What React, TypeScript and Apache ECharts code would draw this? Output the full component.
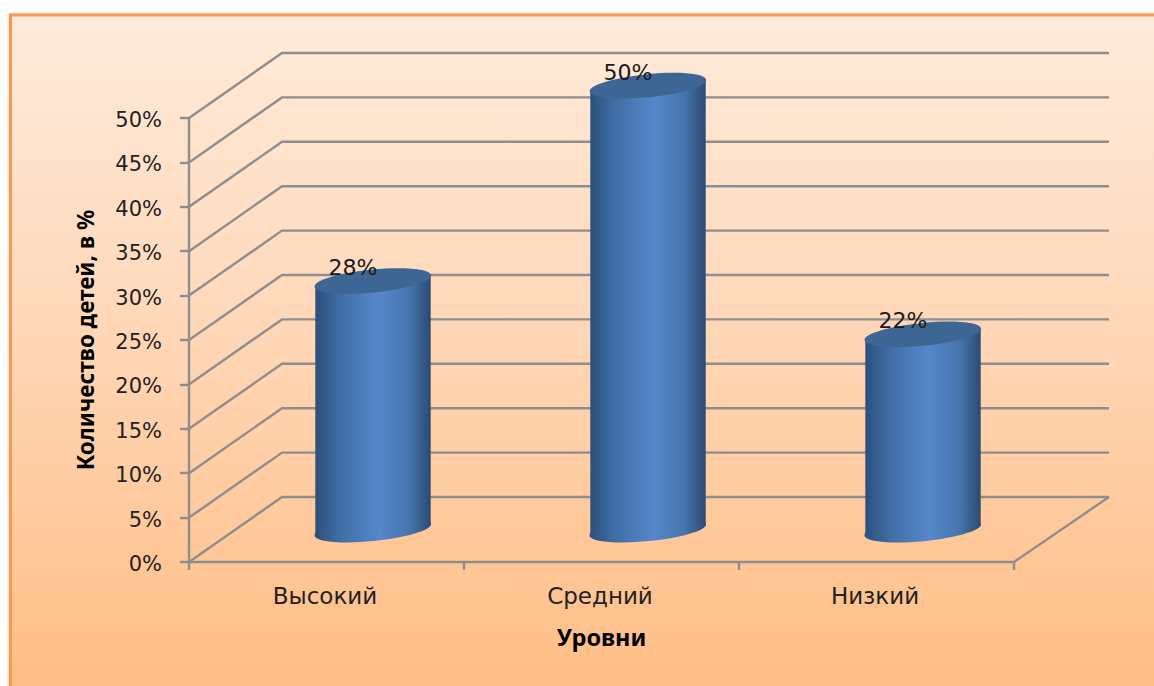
import React, { useEffect, useRef } from "react";
import * as echarts from "echarts";

const categories = ["Высокий", "Средний", "Низкий"];
const values = [28, 50, 22];
const wallLevels = [0, 5, 10, 15, 20, 25, 30, 35, 40, 45, 50];

const DEPTH_X = 93;
const DEPTH_Y = -65;
const WALL_EXTRA = 2;
const GRID_COLOR = "#8E8E8E";
const FONT = "'DejaVu Sans', sans-serif";
const TITLE_FONT = "'Noto Sans', sans-serif";

function wallItem(params: any, api: any) {
  const sys = params.coordSys;
  const level = api.value(1);
  const y = api.coord([0, level])[1];
  const x0 = sys.x;
  const x1 = sys.x + sys.width;
  const style = { stroke: GRID_COLOR, lineWidth: 2.4, fill: "none" };
  const children: any[] = [
    {
      type: "polyline",
      shape: {
        points: [
          [x0, y],
          [x0 + DEPTH_X, y + DEPTH_Y],
          [x1 + DEPTH_X + WALL_EXTRA, y + DEPTH_Y],
        ],
      },
      style,
    },
  ];
  if (level === 0) {
    children.push({
      type: "line",
      shape: { x1, y1: y, x2: x1 + DEPTH_X + WALL_EXTRA, y2: y + DEPTH_Y },
      style,
    });
  }
  return { type: "group", children };
}

const sideGradient = () =>
  new echarts.graphic.LinearGradient(0, 0, 1, 0, [
    { offset: 0, color: "#2C4F7B" },
    { offset: 0.2, color: "#3F6CA2" },
    { offset: 0.55, color: "#5588CB" },
    { offset: 0.82, color: "#4674AC" },
    { offset: 1, color: "#2B4A72" },
  ]);

function cylinderItem(params: any, api: any) {
  const index = api.value(0);
  const value = api.value(1);
  const top = api.coord([index, value]);
  const base = api.coord([index, 0]);
  const band = api.size([1, 0])[0];
  const cx = top[0] + DEPTH_X / 2;
  const cyTop = top[1] + DEPTH_Y / 2;
  const cyBase = base[1] + DEPTH_Y / 2;
  const rx = band * 0.213;
  const ry = 11.5;
  const tilt = (5.7 * Math.PI) / 180;
  const halfW = rx * 0.985;
  const tangent = 5.7;
  const ellipse = (cy: number, fill: any) => ({
    type: "ellipse",
    shape: { cx, cy, rx, ry },
    rotation: tilt,
    originX: cx,
    originY: cy,
    style: { fill },
  });
  return {
    type: "group",
    children: [
      ellipse(cyBase, sideGradient()),
      {
        type: "polygon",
        shape: {
          points: [
            [cx - halfW, cyTop + tangent],
            [cx + halfW, cyTop - tangent],
            [cx + halfW, cyBase - tangent],
            [cx - halfW, cyBase + tangent],
          ],
        },
        style: { fill: sideGradient() },
      },
      ellipse(cyTop, "#3E6695"),
      {
        type: "text",
        style: {
          x: cx - 20,
          y: cyTop - 13.5,
          text: value + "%",
          fill: "#1A1A1A",
          font: "22px " + FONT,
          textAlign: "center",
          textVerticalAlign: "middle",
        },
      },
    ],
  };
}

export default function App() {
  const ref = useRef<HTMLDivElement>(null);
  useEffect(() => {
    document.body.style.margin = "0";
    const chart = echarts.init(ref.current!, undefined, { renderer: "svg" });
    chart.setOption({
      animation: false,
      backgroundColor: "#FFFFFF",
      graphic: [
        {
          type: "rect",
          z: -10,
          shape: { x: 10.5, y: 15, width: 1150, height: 680 },
          style: {
            fill: new echarts.graphic.LinearGradient(0, 0, 0, 1, [
              { offset: 0, color: "#FEEBDB" },
              { offset: 0.4, color: "#FFDABD" },
              { offset: 1, color: "#FFBD84" },
            ]),
            stroke: "#FA9A4C",
            lineWidth: 3,
            shadowBlur: 3,
            shadowColor: "rgba(0,0,0,0.25)",
          },
        },
      ],
      grid: { left: 189, right: 140, top: 118, bottom: 124, containLabel: false },
      xAxis: {
        type: "category",
        data: categories,
        name: "Уровни",
        nameLocation: "middle",
        nameGap: 63,
        nameTextStyle: { fontFamily: TITLE_FONT, fontWeight: "bold", fontSize: 23.5, color: "#000" },
        axisLine: { lineStyle: { color: GRID_COLOR, width: 2.4 } },
        axisTick: { show: true, alignWithLabel: false, length: 8, lineStyle: { color: GRID_COLOR, width: 2.4 } },
        axisLabel: { fontFamily: FONT, fontSize: 23, color: "#222", margin: 22, padding: [0, 3, 0, 0] },
      },
      yAxis: {
        type: "value",
        min: 0,
        max: 50,
        interval: 5,
        name: "Количество детей, в %",
        nameLocation: "middle",
        nameGap: 92,
        nameTextStyle: { fontFamily: TITLE_FONT, fontWeight: "bold", fontSize: 22.5, color: "#000" },
        axisLine: { show: true, lineStyle: { color: GRID_COLOR, width: 2.4 } },
        axisTick: { show: true, length: 9, lineStyle: { color: GRID_COLOR, width: 2.4 } },
        axisLabel: { fontFamily: FONT, fontSize: 21, color: "#222", margin: 27, verticalAlign: "top", lineHeight: 4, formatter: "{value}%" },
        splitLine: { show: false },
      },
      series: [
        {
          type: "custom",
          z: 1,
          silent: true,
          clip: false,
          renderItem: wallItem,
          encode: { x: 0, y: 1 },
          data: wallLevels.map((level) => [0, level]),
        },
        {
          type: "custom",
          z: 5,
          clip: false,
          renderItem: cylinderItem,
          encode: { x: 0, y: 1 },
          data: values.map((value, i) => [i, value]),
        },
      ],
    });
    return () => chart.dispose();
  }, []);
  return <div ref={ref} style={{ width: 1154, height: 686 }} />;
}
